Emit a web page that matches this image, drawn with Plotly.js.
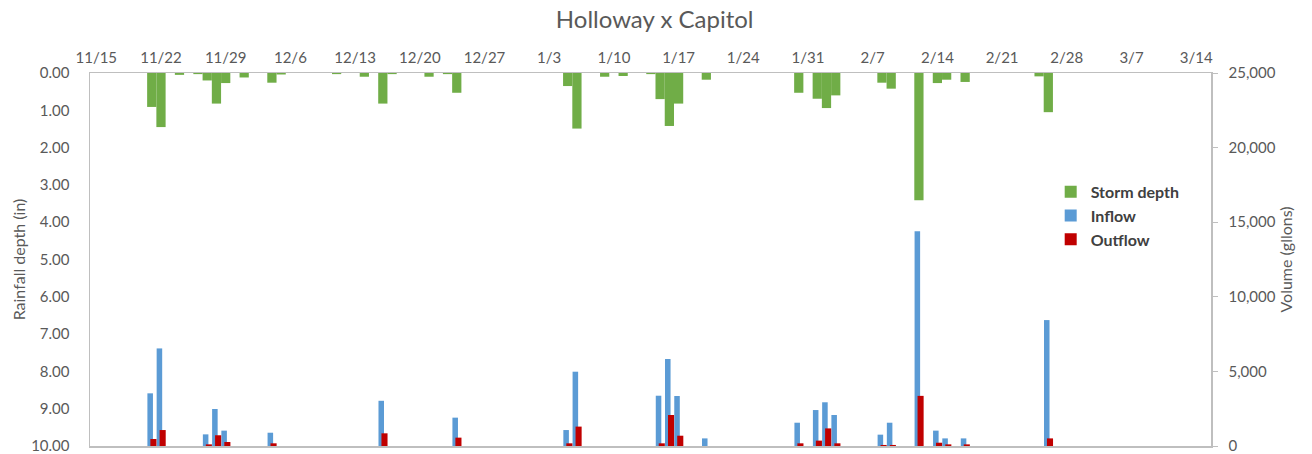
<!DOCTYPE html>
<html>
<head>
<meta charset="utf-8">
<script src="https://cdn.plot.ly/plotly-3.0.1.min.js"></script>
<style>
  html, body { margin: 0; padding: 0; background: #fff; }
  #plot { width: 1312px; height: 454px; }
</style>
</head>
<body>
<div id="plot"></div>
<script>
// storm depth per day (in)
let stormDates = ["2014-11-21", "2014-11-22", "2014-11-24", "2014-11-26", "2014-11-27", "2014-11-28", "2014-11-29",
  "2014-12-01", "2014-12-04", "2014-12-05", "2014-12-11", "2014-12-14", "2014-12-16", "2014-12-17", "2014-12-21",
  "2014-12-23", "2014-12-24", "2015-01-05", "2015-01-06", "2015-01-09", "2015-01-11", "2015-01-14", "2015-01-15",
  "2015-01-16", "2015-01-17", "2015-01-20", "2015-01-30", "2015-02-01", "2015-02-02", "2015-02-03", "2015-02-08",
  "2015-02-09", "2015-02-12", "2015-02-14", "2015-02-15", "2015-02-17", "2015-02-25", "2015-02-26"];
let stormDepth = [0.91, 1.45, 0.05, 0.03, 0.20, 0.82, 0.27,
  0.12, 0.26, 0.04, 0.03, 0.10, 0.82, 0.03, 0.10,
  0.03, 0.53, 0.35, 1.49, 0.10, 0.08, 0.03, 0.70,
  1.42, 0.82, 0.18, 0.53, 0.69, 0.94, 0.60, 0.26,
  0.42, 3.41, 0.27, 0.18, 0.24, 0.09, 1.05];

// inflow / outflow volume (gallons)
let flowDates = ["2014-11-21", "2014-11-22", "2014-11-27", "2014-11-28", "2014-11-29", "2014-12-04", "2014-12-16",
  "2014-12-24", "2015-01-05", "2015-01-06", "2015-01-15", "2015-01-16", "2015-01-17", "2015-01-20", "2015-01-30",
  "2015-02-01", "2015-02-02", "2015-02-03", "2015-02-08", "2015-02-09", "2015-02-12", "2015-02-14", "2015-02-15",
  "2015-02-17", "2015-02-26"];
let inflow = [3530, 6540, 780, 2480, 1030, 890, 3030,
  1900, 1070, 4980, 3370, 5830, 3350, 510, 1560,
  2410, 2930, 2080, 760, 1560, 14400, 1030, 510,
  510, 8440];
let outflow = [470, 1070, 110, 720, 270, 180, 850,
  560, 180, 1300, 180, 2080, 690, 0, 180,
  360, 1180, 180, 70, 70, 3360, 220, 110,
  110, 510];

// weekly tick labels
let tickDates = ["2014-11-15", "2014-11-22", "2014-11-29", "2014-12-06", "2014-12-13", "2014-12-20", "2014-12-27",
  "2015-01-03", "2015-01-10", "2015-01-17", "2015-01-24", "2015-01-31", "2015-02-07", "2015-02-14", "2015-02-21",
  "2015-02-28", "2015-03-07", "2015-03-14"];
let tickLabels = ["11/15", "11/22", "11/29", "12/6", "12/13", "12/20", "12/27", "1/3", "1/10", "1/17", "1/24",
  "1/31", "2/7", "2/14", "2/21", "2/28", "3/7", "3/14"];

const DAY = 86400000;
const fontFam = "Lato, 'Open Sans', sans-serif";
const grey = "#595959";
const lineGrey = "#BFBFBF";

let traceStorm = {
  x: stormDates,
  y: stormDepth,
  name: "Storm depth",
  type: "bar",
  yaxis: "y",
  width: DAY,
  offset: -DAY / 2,
  marker: {color: "#70AD47"}
};

let traceIn = {
  x: flowDates,
  y: inflow,
  name: "Inflow",
  type: "bar",
  yaxis: "y2",
  width: DAY * 0.6,
  offset: -DAY * 0.47,
  marker: {color: "#5B9BD5"}
};

let traceOut = {
  x: flowDates,
  y: outflow,
  name: "Outflow",
  type: "bar",
  yaxis: "y2",
  width: DAY * 0.66,
  offset: -DAY * 0.15,
  marker: {color: "#C00000"}
};

let layout = {
  width: 1312,
  height: 454,
  margin: {l: 90, r: 101, t: 73, b: 8},
  paper_bgcolor: "#fff",
  plot_bgcolor: "#fff",
  barmode: "overlay",
  font: {family: fontFam, size: 15, color: grey},
  title: {
    text: "Holloway x Capitol",
    font: {family: fontFam, size: 24, color: grey},
    x: 0.499, xref: "container", xanchor: "center",
    y: 1 - 20 / 454, yref: "container", yanchor: "middle"
  },
  xaxis: {
    type: "date",
    side: "top",
    range: ["2014-11-14 07:40", "2015-03-15 14:24"],
    tickvals: tickDates,
    ticktext: tickLabels,
    ticks: "",
    ticklabelstandoff: 3,
    showgrid: false,
    zeroline: false,
    showline: true,
    mirror: true,
    linecolor: lineGrey,
    linewidth: 1.5,
    tickfont: {size: 15, color: grey}
  },
  yaxis: {
    range: [10, 0],
    dtick: 1,
    tickformat: ".2f",
    ticks: "",
    ticklabelstandoff: 16,
    ticklabeloverflow: "allow",
    showgrid: false,
    zeroline: false,
    showline: true,
    linecolor: lineGrey,
    linewidth: 1.5,
    tickfont: {size: 15, color: grey},
    title: {text: "Rainfall depth (in)", font: {size: 16, color: grey}, standoff: 1}
  },
  yaxis2: {
    overlaying: "y",
    side: "right",
    range: [0, 25000],
    dtick: 5000,
    tickformat: ",d",
    ticks: "outside",
    ticklen: 5,
    tickcolor: lineGrey,
    ticklabelstandoff: 8,
    ticklabeloverflow: "allow",
    showgrid: false,
    zeroline: false,
    showline: true,
    linecolor: lineGrey,
    linewidth: 1.5,
    tickfont: {size: 15, color: grey},
    title: {text: "Volume (gllons)", font: {size: 16, color: grey}, standoff: 6}
  },
  legend: {
    x: 0.857, xanchor: "left",
    y: 0.727, yanchor: "top",
    bgcolor: "rgba(0,0,0,0)",
    itemwidth: 30,
    tracegroupgap: 0,
    font: {family: fontFam, size: 16, color: "#404040", weight: "bold"}
  }
};

Plotly.newPlot("plot", [traceStorm, traceIn, traceOut], layout, {displayModeBar: false, staticPlot: true});
</script>
</body>
</html>
